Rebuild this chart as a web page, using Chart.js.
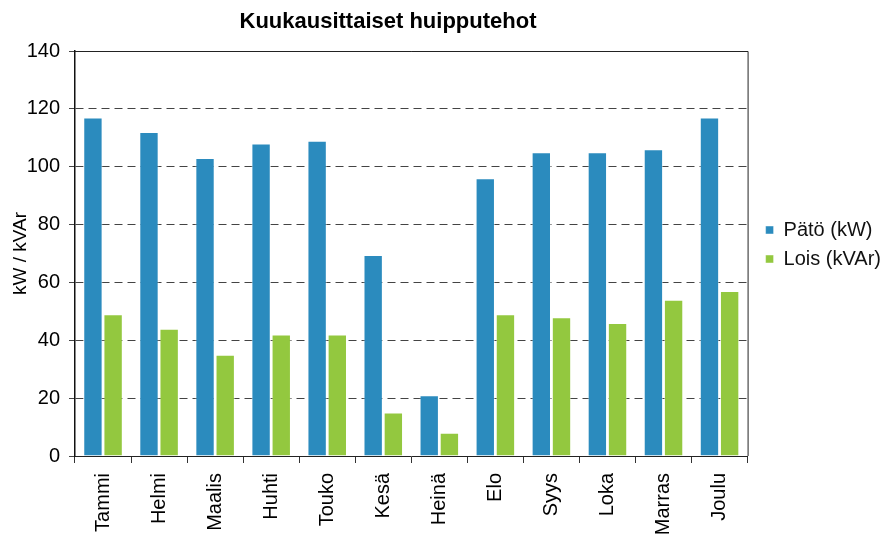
<!DOCTYPE html>
<html>
<head>
<meta charset="utf-8">
<script src="https://cdn.jsdelivr.net/npm/chart.js@4/dist/chart.umd.min.js"></script>
<style>
  html, body { margin: 0; padding: 0; background: #fff; }
  #wrap { width: 882px; height: 535px; }
</style>
</head>
<body>
<div id="wrap"><canvas id="chart" width="882" height="535"></canvas></div>
<script>
var months = ["Tammi", "Helmi", "Maalis", "Huhti", "Touko", "Kesä", "Heinä", "Elo", "Syys", "Loka", "Marras", "Joulu"];
var patoKW = [117, 112, 103, 108, 109, 69.5, 21, 96, 105, 105, 106, 117];
var loisKVAr = [49, 44, 35, 42, 42, 15, 8, 49, 48, 46, 54, 57];
var yTicks = [0, 20, 40, 60, 80, 100, 120, 140];

var fontFamily = "'Liberation Sans', Arial, sans-serif";

// title over the plot, plus top/right frame of the plot area
var framePlugin = {
    id: "frame",
    afterLayout: function(chart) {
        // nudge legend to where it sits in the original
        var lg = chart.legend;
        lg.left += 9; lg.right += 9;
        lg.top -= 9; lg.bottom -= 9;
    },
    afterDraw: function(chart) {
        var ctx = chart.ctx;
        var a = chart.chartArea;
        ctx.save();
        ctx.strokeStyle = "#222";
        ctx.lineWidth = 1;
        ctx.beginPath();
        ctx.moveTo(a.left, a.top + 0.5);
        ctx.lineTo(a.right + 0.5, a.top + 0.5);
        ctx.lineTo(a.right + 0.5, a.bottom);
        ctx.stroke();
        ctx.fillStyle = "#000";
        ctx.font = "bold 22px " + fontFamily;
        ctx.textAlign = "center";
        ctx.textBaseline = "alphabetic";
        ctx.fillText("Kuukausittaiset huipputehot", 388, 28);
        ctx.restore();
    }
};

var ctx = document.getElementById("chart").getContext("2d");
var myChart = new Chart(ctx, {
    type: "bar",
    data: {
        labels: months,
        datasets: [{
            label: "Pätö (kW)",
            data: patoKW,
            backgroundColor: "#2b8bbe",
            borderColor: "rgba(255,255,255,0.45)",
            borderWidth: 1,
            barPercentage: 0.96,
            categoryPercentage: 0.72
        }, {
            label: "Lois (kVAr)",
            data: loisKVAr,
            backgroundColor: "#93c83f",
            borderColor: "rgba(255,255,255,0.45)",
            borderWidth: 1,
            barPercentage: 0.96,
            categoryPercentage: 0.72
        }]
    },
    options: {
        responsive: false,
        animation: false,
        layout: { padding: { top: 51, right: 0, left: 0, bottom: 0 } },
        plugins: {
            title: { display: false },
            tooltip: { enabled: false },
            legend: {
                position: "right",
                fullSize: false,
                labels: {
                    boxWidth: 8,
                    boxHeight: 8,
                    padding: 9,
                    color: "#111",
                    font: { family: fontFamily, size: 20 }
                }
            }
        },
        scales: {
            x: {
                afterFit: function(axis) { axis.height = 79; },
                grid: {
                    offset: true,
                    drawOnChartArea: false,
                    drawTicks: true,
                    tickLength: 7,
                    color: "#333"
                },
                border: { color: "#222", width: 1 },
                ticks: {
                    minRotation: 90,
                    maxRotation: 90,
                    autoSkip: false,
                    color: "#000",
                    padding: 10,
                    font: { family: fontFamily, size: 20 }
                }
            },
            y: {
                min: 0,
                max: 140,
                afterFit: function(axis) { axis.width = 75; },
                afterBuildTicks: function(axis) {
                    axis.ticks = yTicks.map(function(v) { return { value: v }; });
                },
                grid: {
                    color: "#444",
                    tickLength: 6,
                    lineWidth: 1
                },
                border: {
                    color: "#111",
                    width: 1.5,
                    dash: function(c) { return c.tick && c.tick.value === 140 ? [] : [8, 5]; }
                },
                ticks: {
                    color: "#000",
                    padding: 9,
                    font: { family: fontFamily, size: 20 }
                },
                title: {
                    display: true,
                    text: "kW / kVAr",
                    color: "#000",
                    padding: { top: 9, bottom: 0 },
                    font: { family: fontFamily, size: 19 }
                }
            }
        }
    },
    plugins: [framePlugin]
});
</script>
</body>
</html>
